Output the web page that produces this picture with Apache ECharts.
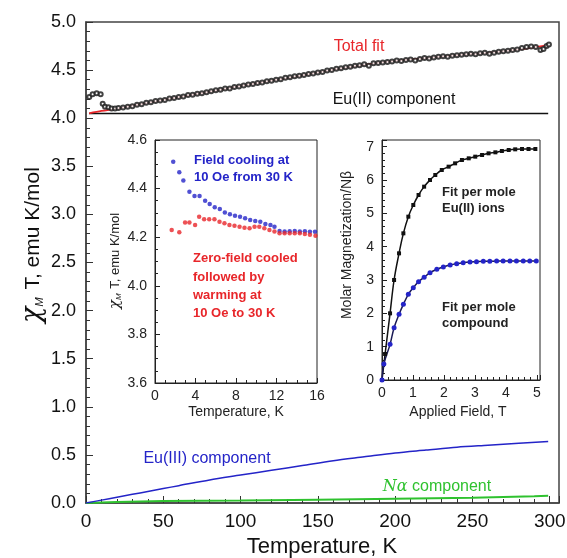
<!DOCTYPE html>
<html><head><meta charset="utf-8">
<script src="https://cdn.jsdelivr.net/npm/echarts@6/dist/echarts.min.js"></script>
<style>html,body{margin:0;padding:0;background:#fff}#c{width:567px;height:558px}</style>
</head><body><div id="c"></div>
<script>
// ---------- Main panel data (T in K, chiM*T in emu K/mol) ----------
const mainT = [2.1,4.3,6.9,9.5,10.8,12.3,14.5,16.6,18.8,21,24,27,30,33,36,39,42,45,48,51,54,57,60,63,66,69,72,75,78,81,84,87,90,93,96,99,102,105,108,111,114,117,120,123,126,129,132,135,138,141,144,147,150,153,156,159,162,165,168,171,174,177,180,183,186,189,192,195,198,201,204,207,210,213,216,219,222,225,228,231,234,237,240,243,246,249,252,255,258,261,264,267,270,273,276,279,282,285,288,291,294,296,298,299.5];
const mainChi = [4.22,4.25,4.26,4.25,4.15,4.12,4.115,4.10,4.10,4.105,4.11,4.12,4.125,4.14,4.145,4.16,4.165,4.18,4.185,4.19,4.205,4.21,4.22,4.225,4.24,4.245,4.255,4.26,4.27,4.28,4.29,4.295,4.31,4.31,4.325,4.33,4.34,4.35,4.355,4.365,4.37,4.385,4.39,4.40,4.405,4.42,4.425,4.435,4.44,4.45,4.46,4.465,4.475,4.48,4.495,4.50,4.515,4.52,4.53,4.535,4.545,4.55,4.56,4.545,4.57,4.575,4.58,4.585,4.59,4.60,4.595,4.605,4.61,4.60,4.615,4.625,4.62,4.63,4.64,4.645,4.64,4.65,4.655,4.66,4.665,4.67,4.665,4.675,4.68,4.67,4.68,4.69,4.695,4.70,4.71,4.715,4.73,4.74,4.745,4.74,4.71,4.72,4.75,4.765];
const fitT   = [2,10,20,40,60,80,100,120,140,160,180,200,220,240,260,280,299];
const fitChi = [4.05,4.075,4.10,4.16,4.22,4.275,4.335,4.39,4.445,4.505,4.555,4.595,4.625,4.655,4.68,4.715,4.76];
const eu2T = [2,299];
const eu2Chi = [4.05,4.05];
const eu3T = [0,10,20,30,40,50,60,80,100,120,140,160,180,200,220,240,260,280,299];
const eu3Chi = [0,0.03,0.06,0.09,0.12,0.15,0.18,0.24,0.29,0.34,0.39,0.44,0.48,0.52,0.55,0.58,0.60,0.62,0.64];
const naT = [0,20,50,100,150,200,250,290,299];
const naChi = [0,0.01,0.02,0.025,0.035,0.045,0.055,0.07,0.075];

// ---------- Inset 1 (low T) ----------
const fcT = [1.8,2.4,2.8,3.4,3.9,4.4,4.95,5.4,5.9,6.4,6.9,7.4,7.9,8.4,8.9,9.4,9.9,10.4,10.9,11.4,11.8,12.3,12.8,13.3,13.8,14.3,14.8,15.3,15.8];
const fcChi = [4.51,4.467,4.433,4.387,4.37,4.37,4.35,4.337,4.323,4.316,4.302,4.294,4.288,4.284,4.278,4.271,4.267,4.264,4.254,4.25,4.243,4.226,4.223,4.224,4.226,4.223,4.224,4.222,4.222];
const zfcT = [1.65,2.4,2.97,3.4,3.96,4.36,4.85,5.35,5.87,6.37,6.86,7.35,7.85,8.35,8.84,9.34,9.83,10.3,10.8,11.3,11.8,12.3,12.8,13.3,13.8,14.3,14.8,15.3,15.85];
const zfcChi = [4.23,4.22,4.261,4.261,4.25,4.284,4.274,4.274,4.274,4.264,4.257,4.25,4.247,4.243,4.239,4.237,4.243,4.243,4.237,4.23,4.223,4.216,4.216,4.216,4.216,4.216,4.213,4.21,4.206];

// ---------- Inset 2 (magnetization) ----------
const euH = [0,0.1,0.26,0.39,0.55,0.69,0.85,1.01,1.18,1.36,1.55,1.72,1.93,2.15,2.36,2.58,2.8,3.01,3.23,3.44,3.66,3.87,4.09,4.3,4.52,4.73,4.95];
const euM = [0,0.78,2.0,3.0,3.8,4.4,4.9,5.25,5.55,5.8,6.0,6.15,6.3,6.4,6.5,6.6,6.65,6.7,6.75,6.8,6.83,6.87,6.9,6.92,6.93,6.93,6.93];
const cpH = [0,0.06,0.26,0.39,0.55,0.69,0.85,1.01,1.18,1.36,1.55,1.77,1.98,2.2,2.41,2.62,2.84,3.05,3.27,3.48,3.7,3.91,4.13,4.34,4.56,4.77,4.98];
const cpM = [0,0.48,1.07,1.57,1.97,2.27,2.57,2.77,2.95,3.08,3.22,3.32,3.39,3.45,3.49,3.52,3.54,3.55,3.56,3.56,3.57,3.57,3.57,3.57,3.57,3.57,3.57];

const zip = (a,b) => a.map((v,i)=>[v,b[i]]);
const FONT = '"Liberation Sans", Arial, sans-serif';
const BLUE = '#2424c8', RED = '#e8262a', GREEN = '#2fc22f';

const chart = echarts.init(document.getElementById('c'), null, {renderer:'canvas'});

function valAxis(o){
  return Object.assign({
    type:'value', splitLine:{show:false},
    axisLine:{show:true, onZero:false, lineStyle:{color:'#222', width:1}},
    axisTick:{show:true, inside:true, length:5, lineStyle:{color:'#222'}},
    axisLabel:{fontFamily:FONT, fontSize:14, color:'#222', margin:6}
  }, o);
}
function minorAxis(o){
  return Object.assign({
    type:'value', splitLine:{show:false},
    axisLine:{show:false, onZero:false},
    axisTick:{show:true, inside:true, length:3, lineStyle:{color:'#222'}},
    axisLabel:{show:false}
  }, o);
}

const option = {
  animation:false,
  backgroundColor:'#fff',
  grid:[
    {left:86, top:22, right:8, bottom:55, show:true, borderColor:'#444', borderWidth:1.5, outerBoundsMode:'none'},
    {left:155, top:140, width:162, height:243, show:true, borderColor:'#222', borderWidth:1, outerBoundsMode:'none'},
    {left:382, top:140, width:158, height:240, show:true, borderColor:'#222', borderWidth:1, outerBoundsMode:'none'}
  ],
  xAxis:[
    valAxis({gridIndex:0, min:0, max:306, interval:50,
      axisLine:{show:true,onZero:false,lineStyle:{color:'#444',width:1.5}},
      axisTick:{show:true,inside:true,length:7,lineStyle:{color:'#333'}},
      axisLabel:{fontFamily:FONT,fontSize:19,color:'#111',margin:9,formatter:v=> (v%50===0? String(v):'')}}),
    minorAxis({gridIndex:0, position:'bottom', min:0, max:306, interval:10, axisTick:{show:true,inside:true,length:4,lineStyle:{color:'#333'}}}),
    valAxis({gridIndex:1, min:0, max:16, interval:4, minorTick:{show:true, splitNumber:4, length:3, lineStyle:{color:'#222'}}}),
    valAxis({gridIndex:2, min:0, max:5.1, interval:1, axisLabel:{fontFamily:FONT,fontSize:14,color:'#222',margin:6,formatter:v=> (Math.abs(v-Math.round(v))<1e-6? String(Math.round(v)):'')}}),
    minorAxis({gridIndex:2, position:'bottom', min:0, max:5.1, interval:0.2})
  ],
  yAxis:[
    valAxis({gridIndex:0, min:0, max:5, interval:0.5,
      axisLine:{show:true,onZero:false,lineStyle:{color:'#444',width:1.5}},
      axisTick:{show:true,inside:true,length:7,lineStyle:{color:'#333'}},
      minorTick:{show:true, splitNumber:5, length:4, lineStyle:{color:'#333'}},
      axisLabel:{fontFamily:FONT,fontSize:18,color:'#111',margin:10,formatter:v=>v.toFixed(1)}}),
    valAxis({gridIndex:1, min:3.6, max:4.6, interval:0.2, minorTick:{show:true, splitNumber:4, length:3, lineStyle:{color:'#222'}},
      axisLabel:{fontFamily:FONT,fontSize:14,color:'#222',margin:8,formatter:v=>v.toFixed(1)}}),
    valAxis({gridIndex:2, min:0, max:7.2, interval:1, axisLabel:{fontFamily:FONT,fontSize:14,color:'#222',margin:8,formatter:v=> (Math.abs(v-Math.round(v))<1e-6? String(Math.round(v)):'')}}),
    minorAxis({gridIndex:2, position:'left', min:0, max:7.2, interval:0.2})
  ],
  series:[
    {type:'line', xAxisIndex:0, yAxisIndex:0, data:zip(naT,naChi), showSymbol:false, lineStyle:{color:GREEN,width:2}, z:2},
    {type:'line', xAxisIndex:0, yAxisIndex:0, data:zip(eu3T,eu3Chi), showSymbol:false, smooth:0.3, lineStyle:{color:BLUE,width:1.5}, z:2},
    {type:'line', xAxisIndex:0, yAxisIndex:0, data:zip(eu2T,eu2Chi), showSymbol:false, lineStyle:{color:'#111',width:1.5}, z:2},
    {type:'line', xAxisIndex:0, yAxisIndex:0, data:zip(fitT,fitChi), showSymbol:false, smooth:0.3, lineStyle:{color:RED,width:1.8}, z:3},
    {type:'scatter', xAxisIndex:0, yAxisIndex:0, data:zip(mainT,mainChi), symbol:'emptyCircle', symbolSize:4,
      itemStyle:{color:'#222', borderColor:'#222', borderWidth:1, opacity:0.85}, z:4}
    ,
    {type:'scatter', xAxisIndex:2, yAxisIndex:1, data:zip(fcT,fcChi), symbolSize:4.5, itemStyle:{color:BLUE}},
    {type:'scatter', xAxisIndex:2, yAxisIndex:1, data:zip(zfcT,zfcChi), symbolSize:4.5, itemStyle:{color:RED}},

    {type:'line', xAxisIndex:3, yAxisIndex:2, data:zip(euH,euM), smooth:0.4, symbol:'rect', symbolSize:4, showSymbol:true,
      itemStyle:{color:'#111'}, lineStyle:{color:'#111',width:1.5}},
    {type:'line', xAxisIndex:3, yAxisIndex:2, data:zip(cpH,cpM), smooth:0.4, symbol:'circle', symbolSize:5, showSymbol:true,
      itemStyle:{color:BLUE}, lineStyle:{color:'#1a1a55',width:1.5}}
  ],
  graphic:[
    {type:'text', x:33, y:245, rotation:Math.PI/2, style:{
      text:'{a|χ}{b|M}{c| T, emu K/mol}', align:'center', verticalAlign:'middle',
      rich:{a:{fontFamily:'"DejaVu Serif", serif', fontStyle:'italic', fontSize:27, fill:'#111'},
            b:{fontFamily:FONT, fontStyle:'italic', fontSize:11, fill:'#111', padding:[14,2,0,0]},
            c:{fontFamily:FONT, fontSize:21, fill:'#111'}}}},
    {type:'text', x:322, y:547, style:{text:'Temperature, K', font:'22px '+FONT, fill:'#111', align:'center', verticalAlign:'middle'}},
    {type:'text', x:359, y:47, style:{text:'Total fit', font:'16px '+FONT, fill:RED, align:'center', verticalAlign:'middle'}},
    {type:'text', x:394, y:100, style:{text:'Eu(II) component', font:'16px '+FONT, fill:'#111', align:'center', verticalAlign:'middle'}},
    {type:'text', x:207, y:459, style:{text:'Eu(III) component', font:'16px '+FONT, fill:BLUE, align:'center', verticalAlign:'middle'}},
    {type:'text', x:437, y:487, style:{text:'{n|Nα}{c| component}', align:'center', verticalAlign:'middle',
      rich:{n:{fontFamily:'"DejaVu Serif", serif', fontStyle:'italic', fontSize:16, fill:GREEN},
            c:{fontFamily:FONT, fontSize:16, fill:GREEN}}}},

    {type:'text', x:115, y:261, rotation:Math.PI/2, style:{
      text:'{a|χ}{b|M}{c| T, emu K/mol}', align:'center', verticalAlign:'middle',
      rich:{a:{fontFamily:'"DejaVu Serif", serif', fontStyle:'italic', fontSize:15, fill:'#222'},
            b:{fontFamily:FONT, fontStyle:'italic', fontSize:8, fill:'#222', padding:[8,1,0,0]},
            c:{fontFamily:FONT, fontSize:13, fill:'#222'}}}},
    {type:'text', x:236, y:412, style:{text:'Temperature, K', font:'14px '+FONT, fill:'#222', align:'center', verticalAlign:'middle'}},
    {type:'text', x:194, y:160, style:{text:'Field cooling at', font:'bold 13px '+FONT, fill:BLUE, align:'left', verticalAlign:'middle'}},
    {type:'text', x:194, y:177, style:{text:'10 Oe from 30 K', font:'bold 13px '+FONT, fill:BLUE, align:'left', verticalAlign:'middle'}},
    {type:'text', x:193, y:258, style:{text:'Zero-field cooled', font:'bold 13px '+FONT, fill:RED, align:'left', verticalAlign:'middle'}},
    {type:'text', x:193, y:277, style:{text:'followed by', font:'bold 13px '+FONT, fill:RED, align:'left', verticalAlign:'middle'}},
    {type:'text', x:193, y:295, style:{text:'warming at', font:'bold 13px '+FONT, fill:RED, align:'left', verticalAlign:'middle'}},
    {type:'text', x:193, y:313, style:{text:'10 Oe to 30 K', font:'bold 13px '+FONT, fill:RED, align:'left', verticalAlign:'middle'}},

    {type:'text', x:347, y:245, rotation:Math.PI/2, style:{text:'Molar Magnetization/Nβ', font:'14px '+FONT, fill:'#222', align:'center', verticalAlign:'middle'}},
    {type:'text', x:458, y:412, style:{text:'Applied Field, T', font:'14px '+FONT, fill:'#222', align:'center', verticalAlign:'middle'}},
    {type:'text', x:442, y:192, style:{text:'Fit per mole', font:'bold 13px '+FONT, fill:'#222', align:'left', verticalAlign:'middle'}},
    {type:'text', x:442, y:208, style:{text:'Eu(II) ions', font:'bold 13px '+FONT, fill:'#222', align:'left', verticalAlign:'middle'}},
    {type:'text', x:442, y:307, style:{text:'Fit per mole', font:'bold 13px '+FONT, fill:'#222', align:'left', verticalAlign:'middle'}},
    {type:'text', x:442, y:323, style:{text:'compound', font:'bold 13px '+FONT, fill:'#222', align:'left', verticalAlign:'middle'}}
  ]
};
chart.setOption(option);
</script></body></html>
